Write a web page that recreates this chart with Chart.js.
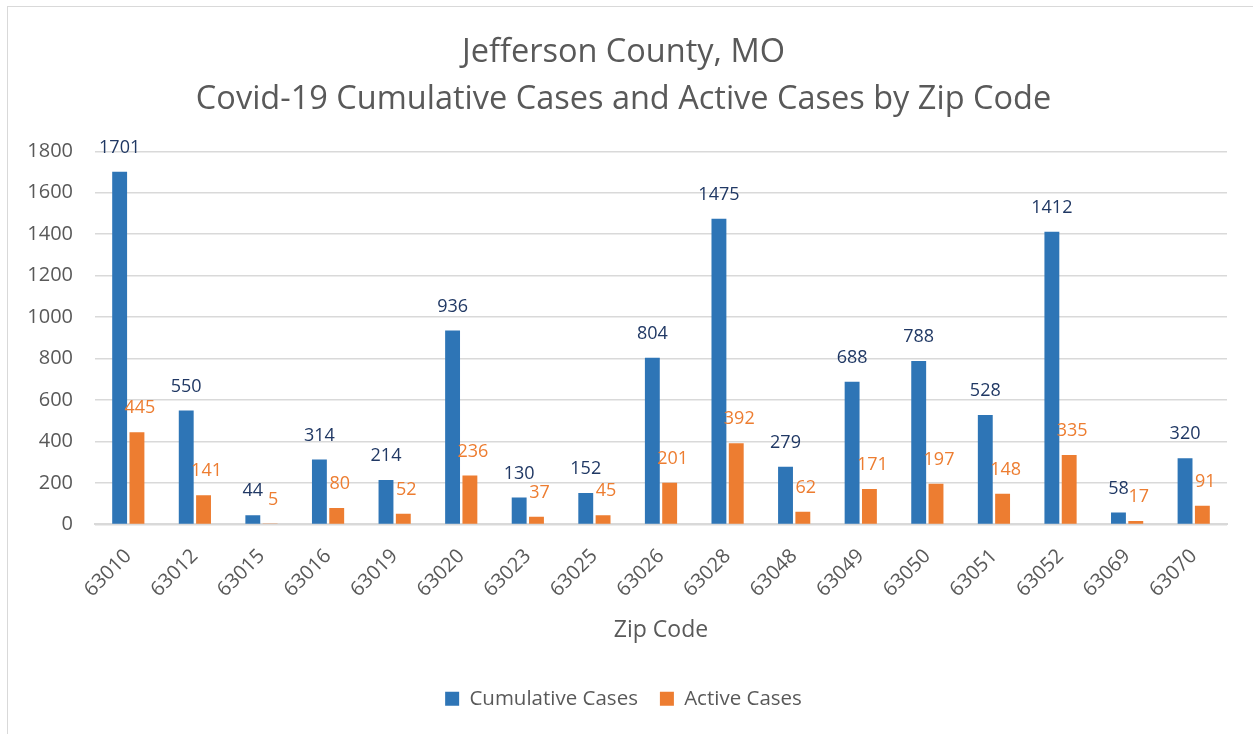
<!DOCTYPE html>
<html lang="en">
<head>
    <meta charset="UTF-8">
    <title>Jefferson County, MO - Covid-19 by Zip Code</title>
    <script src="https://cdn.jsdelivr.net/npm/chart.js"></script>
    <style>
        html, body {
            margin: 0;
            padding: 0;
            background: #ffffff;
            overflow: hidden;
        }

        .frame {
            position: absolute;
            left: 7px;
            top: 6px;
            width: 1300px;
            height: 800px;
            border: 1px solid #d9d9d9;
        }

        .chart-box {
            position: absolute;
            left: 0;
            top: 0;
            width: 1253px;
            height: 734px;
        }
    </style>
</head>
<body>
    <div class="frame"></div>
    <div class="chart-box">
        <canvas id="zipChart"></canvas>
    </div>

    <script>
        // Data
        const zipCodes = ['63010', '63012', '63015', '63016', '63019', '63020', '63023', '63025', '63026',
            '63028', '63048', '63049', '63050', '63051', '63052', '63069', '63070'];
        const cumulativeCases = [1701, 550, 44, 314, 214, 936, 130, 152, 804, 1475, 279, 688, 788, 528, 1412, 58, 320];
        const activeCases = [445, 141, 5, 80, 52, 236, 37, 45, 201, 392, 62, 171, 197, 148, 335, 17, 91];
        const titleLines = ['Jefferson County, MO', 'Covid-19 Cumulative Cases and Active Cases by Zip Code'];

        const BLUE = '#2e75b6';
        const ORANGE = '#ed7d31';
        const GREY = '#595959';
        const FONT = "'Open Sans', 'Noto Sans', sans-serif";

        // Value labels above each bar (like Excel "Outside End")
        const barLabels = {
            id: 'barLabels',
            afterDatasetsDraw(chart) {
                const ctx = chart.ctx;
                ctx.save();
                ctx.font = '18px ' + FONT;
                ctx.textAlign = 'center';
                ctx.textBaseline = 'middle';
                chart.data.datasets.forEach((ds, i) => {
                    const meta = chart.getDatasetMeta(i);
                    ctx.fillStyle = ds.labelColor;
                    meta.data.forEach((bar, j) => {
                        ctx.fillText(String(ds.data[j]), bar.x + ds.labelShift, bar.y - 24);
                    });
                });
                ctx.restore();
            }
        };

        const ctx = document.getElementById('zipChart').getContext('2d');
        const zipChart = new Chart(ctx, {
            type: 'bar',
            data: {
                labels: zipCodes,
                datasets: [{
                    label: 'Cumulative Cases',
                    data: cumulativeCases,
                    backgroundColor: BLUE,
                    labelColor: '#203864',
                    labelShift: 0
                }, {
                    label: 'Active Cases',
                    data: activeCases,
                    backgroundColor: ORANGE,
                    labelColor: ORANGE,
                    labelShift: 3
                }]
            },
            options: {
                responsive: true,
                maintainAspectRatio: false,
                animation: false,
                categoryPercentage: 0.52,
                barPercentage: 0.86,
                layout: {
                    padding: { left: 20, right: 26, top: 29, bottom: 15 }
                },
                plugins: {
                    title: {
                        display: true,
                        text: titleLines,
                        color: GREY,
                        font: { family: FONT, size: 32.5, weight: 'normal', lineHeight: 1.45 },
                        padding: { top: 0, bottom: 28 }
                    },
                    legend: {
                        position: 'bottom',
                        labels: {
                            color: GREY,
                            font: { family: FONT, size: 20.5 },
                            boxWidth: 14,
                            boxHeight: 14,
                            padding: 22
                        }
                    },
                    tooltip: { enabled: false }
                },
                scales: {
                    x: {
                        grid: { display: false },
                        border: { color: '#d9d9d9', width: 2 },
                        ticks: {
                            color: GREY,
                            font: { family: FONT, size: 20 },
                            maxRotation: 45,
                            minRotation: 45,
                            padding: 12
                        },
                        title: {
                            display: true,
                            text: 'Zip Code',
                            color: GREY,
                            font: { family: FONT, size: 23 },
                            padding: { top: 3, bottom: 22 }
                        }
                    },
                    y: {
                        min: 0,
                        max: 1800,
                        afterFit(scale) {
                            scale.width = 75;
                        },
                        grid: { color: '#d9d9d9', lineWidth: 1.5, drawTicks: false },
                        border: { display: false },
                        ticks: {
                            stepSize: 200,
                            color: GREY,
                            font: { family: FONT, size: 20 },
                            padding: 22,
                            callback: (value) => String(value)
                        }
                    }
                }
            },
            plugins: [barLabels]
        });
    </script>
</body>
</html>
